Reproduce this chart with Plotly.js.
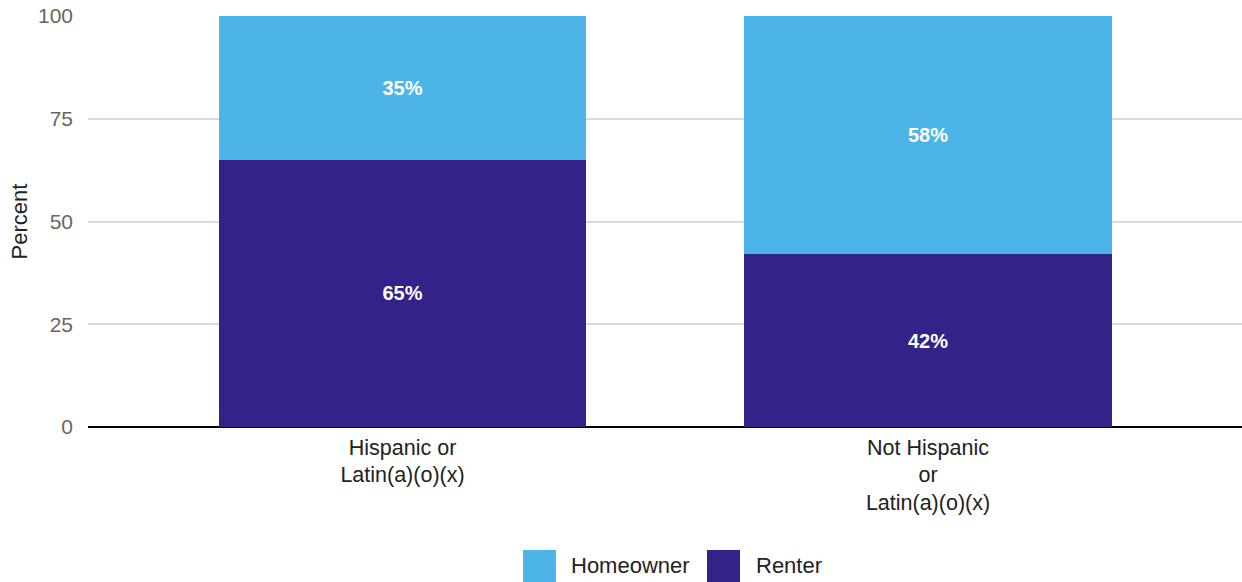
<!DOCTYPE html>
<html>
<head>
<meta charset="utf-8">
<script src="https://cdn.plot.ly/plotly-3.0.1.min.js"></script>
<style>html,body{margin:0;padding:0;background:#fff;}#chart{width:1242px;height:582px;}</style>
</head>
<body>
<div id="chart"></div>
<script>
const categories = ["Hispanic or<br>Latin(a)(o)(x)", "Not Hispanic<br>or<br>Latin(a)(o)(x)"];
const renter = [65, 42];
const homeowner = [35, 58];
const seriesNames = ["Homeowner", "Renter"];
const yTicks = [0, 25, 50, 75, 100];

const colHome = "#4DB4E7";
const colRent = "#332288";
const font = "Liberation Sans, Arial, sans-serif";

const traces = [
  {
    type: "bar", name: seriesNames[1], x: categories, y: renter,
    marker: {color: colRent, line: {width: 0}},
    text: renter.map(v => "<b>" + v + "%</b>"), textposition: "inside",
    insidetextanchor: "middle", textfont: {color: "#fff", size: 20, family: font},
    width: 0.7, hoverinfo: "none", showlegend: false
  },
  {
    type: "bar", name: seriesNames[0], x: categories, y: homeowner,
    marker: {color: colHome, line: {width: 0}},
    text: homeowner.map(v => "<b>" + v + "%</b>"), textposition: "inside",
    insidetextanchor: "middle", textfont: {color: "#fff", size: 20, family: font},
    width: 0.7, hoverinfo: "none", showlegend: false
  }
];

const legY0 = -0.2993, legY1 = -0.3771, legYt = -0.3358;
const layout = {
  width: 1242, height: 582,
  margin: {l: 88, r: 0, t: 16, b: 155},
  paper_bgcolor: "#fff", plot_bgcolor: "#fff",
  barmode: "stack",
  font: {family: font, size: 21, color: "#222"},
  xaxis: {
    type: "category", range: [-0.5985, 1.5975],
    showgrid: false, showline: false, zeroline: false,
    tickfont: {family: font, size: 21.5, color: "#222"},
    ticks: "", ticklabelstandoff: 5
  },
  yaxis: {
    range: [0, 100], tickvals: yTicks, ticktext: yTicks.map(String),
    showgrid: true, gridcolor: "#dadada", gridwidth: 2,
    zeroline: true, zerolinecolor: "#000", zerolinewidth: 2,
    showline: false, ticks: "", ticklabelstandoff: 14,
    tickfont: {family: font, size: 21, color: "#666"},
    title: {text: "Percent", font: {family: font, size: 22, color: "#222"}, standoff: 4}
  },
  shapes: [
    {type: "rect", xref: "paper", yref: "paper", x0: 0.3770, x1: 0.4055, y0: legY0, y1: legY1, fillcolor: colHome, line: {width: 0}},
    {type: "rect", xref: "paper", yref: "paper", x0: 0.5364, x1: 0.5650, y0: legY0, y1: legY1, fillcolor: colRent, line: {width: 0}}
  ],
  annotations: [
    {xref: "paper", yref: "paper", x: 0.4168, y: legYt, xanchor: "left", yanchor: "middle", text: seriesNames[0], showarrow: false, font: {family: font, size: 22, color: "#222"}},
    {xref: "paper", yref: "paper", x: 0.5771, y: legYt, xanchor: "left", yanchor: "middle", text: seriesNames[1], showarrow: false, font: {family: font, size: 22, color: "#222"}}
  ]
};

Plotly.newPlot("chart", traces, layout, {staticPlot: true, displayModeBar: false});
</script>
</body>
</html>
